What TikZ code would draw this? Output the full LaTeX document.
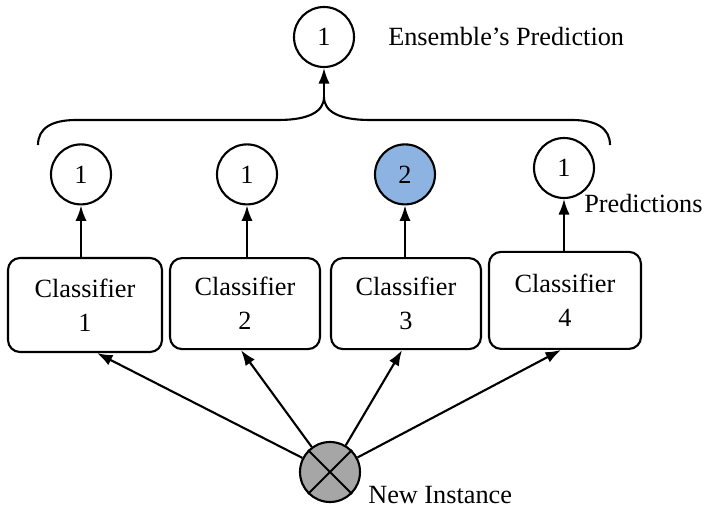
\documentclass[tikz,border=0pt]{standalone}
\usepackage{fontspec}
\setmainfont{Liberation Serif}
\usetikzlibrary{arrows.meta}

\tikzstyle{base}=[draw=black,
                  line width=1.5pt,
                  text centered]
\definecolor{OddVoteColor}{rgb}{0.553,0.702,0.886}
\definecolor{InstanceColor}{rgb}{0.651,0.651,0.651}
\tikzstyle{vote}=[base, circle, minimum size=1.5cm, inner sep=0pt]
\tikzstyle{oddvote}=[vote, fill={OddVoteColor}]
\tikzstyle{instance}=[vote, fill={InstanceColor}]
\tikzstyle{classifier}=[base, rectangle, rounded corners=0.3cm, align=center,
                        minimum width=3.75cm, minimum height=2.275cm]
\tikzstyle{sidetext}=[anchor=west, inner sep=0pt]
\tikzstyle{flow}=[line width=1.5pt, -{Latex[length=11pt,width=8pt]}]

\begin{document}
\begin{tikzpicture}[font=\fontsize{18.7}{24}\selectfont]
    \useasboundingbox (0,0) rectangle (17.6,-12.7);

    \node at ( 8.100,  -0.925) (ensemble)  [vote]     {1};
    \node at ( 9.700,  -0.925) (ens_text)  [sidetext] {Ensemble's Prediction};
    \node at ( 2.025,  -4.360) (pred_1)    [vote]     {1};
    \node at ( 6.175,  -4.360) (pred_2)    [vote]     {1};
    \node at (10.125,  -4.360) (pred_3)    [oddvote]  {2};
    \node at (14.100,  -4.200) (pred_4)    [vote]     {1};
    \node at (14.600,  -5.100) (pred_text) [sidetext] {Predictions};
    \node at ( 2.125,  -7.625) (clf_1)     [classifier, minimum width=3.85cm, minimum height=2.35cm] {Classifier\\1};
    \node at ( 6.125,  -7.590) (clf_2)     [classifier]                                            {Classifier\\2};
    \node at (10.150,  -7.590) (clf_3)     [classifier]                                            {Classifier\\3};
    \node at (14.125,  -7.510) (clf_4)     [classifier, minimum width=3.8cm, minimum height=2.425cm] {Classifier\\4};
    \node at ( 8.250, -11.800) (instance)  [instance] {};
    \node at ( 9.200, -12.375) (inst_text) [sidetext] {New Instance};

    % brace gathering the four votes
    \coordinate (vote_tip) at (8.1, -2.425);
    \draw[line width=1.5pt] (0.95,-3.625) .. controls (0.95,-3.2) and (1.3,-3.0) .. (1.9,-3.0)
        -- (6.95,-3.0) .. controls (7.7,-3.0) and (8.1,-2.8) .. (vote_tip)
        .. controls (8.1,-2.8) and (8.5,-3.0) .. (9.25,-3.0)
        -- (14.3,-3.0) .. controls (14.9,-3.0) and (15.25,-3.2) .. (15.25,-3.625);

    % cross in the instance
    \draw[line width=1.5pt] (instance.north west) -- (instance.south east);
    \draw[line width=1.5pt] (instance.north east) -- (instance.south west);

    \draw[flow] (vote_tip)             -- (ensemble);
    \draw[flow] (pred_1 |- clf_1.north) -- (pred_1);
    \draw[flow] (pred_2 |- clf_2.north) -- (pred_2);
    \draw[flow] (pred_3 |- clf_3.north) -- (pred_3);
    \draw[flow] (pred_4 |- clf_4.north) -- (pred_4);
    \draw[flow] (instance)             -- ([xshift=3mm]clf_1.south);
    \draw[flow] (instance)             -- ([xshift=-1mm]clf_2.south);
    \draw[flow] (instance)             -- ([xshift=-1mm]clf_3.south);
    \draw[flow] (instance)             -- ([xshift=-1mm]clf_4.south);
\end{tikzpicture}
\end{document}
